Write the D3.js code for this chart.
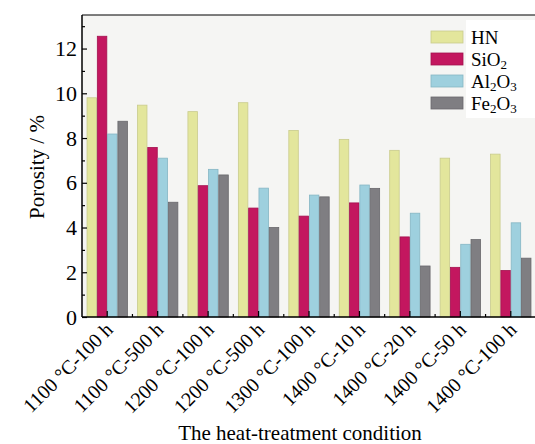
<!DOCTYPE html>
<html>
<head>
<meta charset="utf-8">
<script src="https://cdn.jsdelivr.net/npm/d3@7"></script>
<style>
  body { margin: 0; background: #fff; }
  text { font-family: "Liberation Serif", "Times New Roman", serif; fill: #000; }
</style>
</head>
<body>
<div id="chart"></div>
<script>
// porosity per heat-treatment condition
var conditions = ['1100 °C-100 h', '1100 °C-500 h', '1200 °C-100 h', '1200 °C-500 h',
  '1300 °C-100 h', '1400 °C-10 h', '1400 °C-20 h', '1400 °C-50 h', '1400 °C-100 h'];
var seriesNames = ['HN', 'SiO2', 'Al2O3', 'Fe2O3'];
var hn    = [9.8, 9.47, 9.18, 9.58, 8.34, 7.94, 7.45, 7.1, 7.28];
var sio2  = [12.55, 7.58, 5.87, 4.87, 4.51, 5.1, 3.58, 2.22, 2.08];
var al2o3 = [8.18, 7.1, 6.6, 5.76, 5.45, 5.9, 4.64, 3.25, 4.21];
var fe2o3 = [8.75, 5.13, 6.35, 4.0, 5.37, 5.75, 2.28, 3.46, 2.63];
var yTicks = [0, 2, 4, 6, 8, 10, 12];

var colors = ['#e3e69c', '#c3175f', '#9ed0de', '#7f7e82'];
var strokes = ['#c9cb8c', '#a4124f', '#86b6c4', '#69686c'];

var seriesValues = [hn, sio2, al2o3, fe2o3];

var W = 535, H = 444;
var margin = { top: 15, left: 82, bottom: 127 };
var plotRight = 536;

var svg = d3.select('#chart').append('svg')
  .attr('width', W)
  .attr('height', H);

var x0 = d3.scaleBand()
  .domain(conditions)
  .range([margin.left, plotRight])
  .paddingInner(0)
  .paddingOuter(0);

var x1 = d3.scaleBand()
  .domain(seriesNames)
  .range([0, x0.bandwidth()])
  .paddingOuter(0.45);

var y = d3.scaleLinear()
  .domain([0, 13.5])
  .range([H - margin.bottom, margin.top]);

// plot background
svg.append('rect')
  .attr('x', margin.left)
  .attr('y', margin.top)
  .attr('width', plotRight - margin.left)
  .attr('height', y(0) - margin.top)
  .attr('fill', '#f5f5f3');

// bars
var groups = svg.append('g').selectAll('g')
  .data(conditions)
  .enter().append('g')
  .attr('transform', function(d) { return 'translate(' + x0(d) + ',0)'; });

groups.selectAll('rect')
  .data(function(d, i) {
    return seriesNames.map(function(s, k) { return { key: s, k: k, value: seriesValues[k][i] }; });
  })
  .enter().append('rect')
  .attr('x', function(d) { return x1(d.key) + 0.4; })
  .attr('width', x1.bandwidth() - 0.8)
  .attr('y', function(d) { return y(d.value); })
  .attr('height', function(d) { return y(0) - y(d.value); })
  .attr('fill', function(d) { return colors[d.k]; })
  .attr('stroke', function(d) { return strokes[d.k]; })
  .attr('stroke-width', 0.8);

// y axis, ticks inward
var yAxis = d3.axisRight(y)
  .tickValues(yTicks)
  .tickSize(5)
  .tickFormat('');
var gy = svg.append('g')
  .attr('transform', 'translate(' + margin.left + ',0)')
  .call(yAxis);
gy.select('.domain').remove();
gy.selectAll('line').attr('stroke', '#000').attr('stroke-width', 1.2);

var yMinor = d3.axisRight(y)
  .tickValues([1, 3, 5, 7, 9, 11, 13])
  .tickSize(3)
  .tickFormat('');
var gym = svg.append('g')
  .attr('transform', 'translate(' + margin.left + ',0)')
  .call(yMinor);
gym.select('.domain').remove();
gym.selectAll('line').attr('stroke', '#000').attr('stroke-width', 1.2);

svg.append('g').selectAll('text')
  .data(yTicks)
  .enter().append('text')
  .attr('x', margin.left - 5)
  .attr('y', function(d) { return y(d); })
  .attr('dy', '0.35em')
  .attr('text-anchor', 'end')
  .style('font-size', '22px')
  .text(function(d) { return d; });

// x axis ticks inward (up)
svg.append('g').selectAll('line.major')
  .data(conditions)
  .enter().append('line')
  .attr('x1', function(d) { return x0(d) + x0.bandwidth() / 2; })
  .attr('x2', function(d) { return x0(d) + x0.bandwidth() / 2; })
  .attr('y1', y(0))
  .attr('y2', y(0) - 6)
  .attr('stroke', '#000')
  .attr('stroke-width', 1.2);

svg.append('g').selectAll('line.minor')
  .data(conditions.slice(1))
  .enter().append('line')
  .attr('x1', function(d) { return x0(d); })
  .attr('x2', function(d) { return x0(d); })
  .attr('y1', y(0))
  .attr('y2', y(0) - 3)
  .attr('stroke', '#000')
  .attr('stroke-width', 1.2);

// frame lines: left, bottom, top
svg.append('line')
  .attr('x1', margin.left).attr('x2', margin.left)
  .attr('y1', margin.top).attr('y2', y(0))
  .attr('stroke', '#000').attr('stroke-width', 1.5);
svg.append('line')
  .attr('x1', margin.left).attr('x2', W)
  .attr('y1', y(0)).attr('y2', y(0))
  .attr('stroke', '#000').attr('stroke-width', 1.5);
svg.append('line')
  .attr('x1', margin.left).attr('x2', W)
  .attr('y1', margin.top).attr('y2', margin.top)
  .attr('stroke', '#000').attr('stroke-width', 1.2);

// x tick labels rotated
svg.append('g').selectAll('text')
  .data(conditions)
  .enter().append('text')
  .attr('transform', function(d) {
    return 'translate(' + (x0(d) + x0.bandwidth() / 2 + 2) + ',' + (y(0) + 9) + ') rotate(-45)';
  })
  .attr('text-anchor', 'end')
  .attr('dy', '0.35em')
  .style('font-size', '20px')
  .text(function(d) { return d; });

// axis titles
svg.append('text')
  .attr('x', 300)
  .attr('y', 440)
  .attr('text-anchor', 'middle')
  .style('font-size', '21px')
  .text('The heat-treatment condition');

svg.append('text')
  .attr('transform', 'translate(44,167) rotate(-90)')
  .attr('text-anchor', 'middle')
  .style('font-size', '21px')
  .text('Porosity / %');

// legend
var legend = svg.append('g');
legend.append('rect')
  .attr('x', 466).attr('y', 20)
  .attr('width', 69).attr('height', 98)
  .attr('fill', '#fff');

var labelParts = [
  [['HN', false]],
  [['SiO', false], ['2', true]],
  [['Al', false], ['2', true], ['O', false], ['3', true]],
  [['Fe', false], ['2', true], ['O', false], ['3', true]]
];

var item = legend.selectAll('g.item')
  .data(seriesNames)
  .enter().append('g')
  .attr('transform', function(d, i) { return 'translate(431,' + (31 + i * 22) + ')'; });

item.append('rect')
  .attr('width', 32)
  .attr('height', 12)
  .attr('fill', function(d, i) { return colors[i]; })
  .attr('stroke', function(d, i) { return strokes[i]; })
  .attr('stroke-width', 0.8);

item.append('text')
  .attr('x', 40)
  .attr('y', 13)
  .style('font-size', '19px')
  .each(function(d, i) {
    var t = d3.select(this);
    labelParts[i].forEach(function(p) {
      var ts = t.append('tspan').text(p[0]);
      if (p[1]) {
        ts.style('font-size', '13px').attr('dy', 3);
      } else if (t.selectAll('tspan').size() > 1) {
        ts.attr('dy', -3);
      }
    });
  });
</script>
</body>
</html>
